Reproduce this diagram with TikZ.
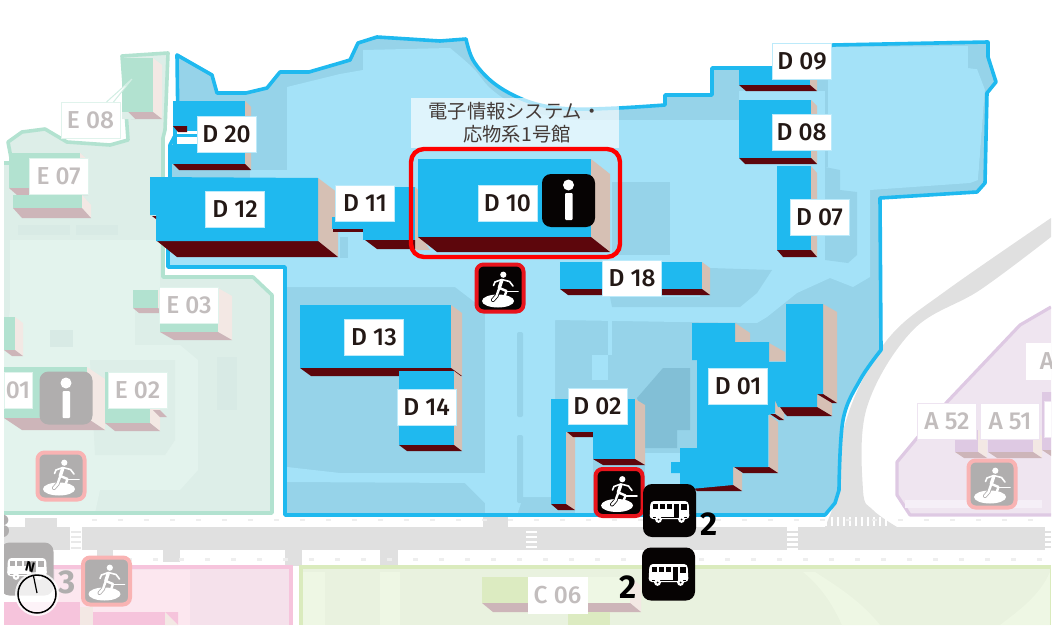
\documentclass[tikz,border=0pt]{standalone}
\usepackage{fontspec}
\setmainfont{Fira Sans}
\newfontfamily\labfont{Fira Sans Medium}
\newfontfamily\cjk{Noto Sans CJK JP}
\definecolor{dblue}{HTML}{1FB9EF}
\definecolor{sitedark}{HTML}{96D3E9}
\definecolor{sitelight}{HTML}{A4E2F8}
\definecolor{sitedeep}{HTML}{82BFD6}
\definecolor{dbrown}{HTML}{D6C0B4}
\definecolor{dmaroon}{HTML}{5D060C}
\definecolor{mintb}{HTML}{B2E2D0}
\definecolor{mintf}{HTML}{DDEEE8}
\definecolor{mintl}{HTML}{E3F3ED}
\definecolor{mintp}{HTML}{D8EAE5}
\definecolor{eside}{HTML}{F3E8E4}
\definecolor{ebot}{HTML}{CDB5B9}
\definecolor{roadg}{HTML}{E0E0E0}
\definecolor{dotg}{HTML}{EEEEEE}
\definecolor{pinkb}{HTML}{F6C4DC}
\definecolor{pinkf}{HTML}{F5E1EB}
\definecolor{pinkl}{HTML}{FCE7EF}
\definecolor{greenb}{HTML}{DAEBBD}
\definecolor{greenf}{HTML}{E9F2DF}
\definecolor{greenl}{HTML}{EEF7E4}
\definecolor{greenbld}{HTML}{DCEBC1}
\definecolor{purpf}{HTML}{EFE5F0}
\definecolor{purpb}{HTML}{DEC9E3}
\definecolor{iconk}{HTML}{060303}
\definecolor{icong}{HTML}{B0AEAE}
\definecolor{redb}{HTML}{E8141C}
\definecolor{pinkred}{HTML}{F9B3B3}
\definecolor{labk}{HTML}{231815}
\definecolor{labg}{HTML}{C2BDBD}
\tikzset{
 dtop/.style={fill=dblue}, dside/.style={fill=dbrown}, dbot/.style={fill=dmaroon},
 etop/.style={fill=mintb}, eside/.style={fill=eside}, ebot/.style={fill=ebot},
 ptop/.style={fill=purpb}, pside/.style={fill=eside}, pbot/.style={fill=ebot},
 ctop/.style={fill=greenbld}, cside/.style={fill=eside}, cbot/.style={fill=ebot},
 blab/.style={rectangle,inner sep=0pt,minimum width=59pt,minimum height=36pt,line width=1pt,fill=white,font=\labfont\fontsize{24.5}{24.5}\selectfont},
 dlab/.style={blab,draw=#1,text=labk}, dlab/.default={dblue!30},
 glab/.style={blab,draw=#1,text=labg}, glab/.default={mintb!40},
 iconbox/.style={rectangle,rounded corners=7pt,inner sep=0pt,minimum width=47pt,minimum height=47pt,line width=4pt},
 infobox/.style={rectangle,rounded corners=9pt,inner sep=0pt,minimum width=53pt,minimum height=53pt},
 busbox/.style={rectangle,rounded corners=9pt,inner sep=0pt,minimum width=53pt,minimum height=53pt,fill=iconk},
 numlab/.style={font=\fontsize{33}{33}\selectfont\bfseries,inner sep=0pt},
}
\newcommand\bld[7]{% theme x1 y1 x2 y2 dx dy
 \fill[#1side] (#4,#3) -- ({#4+#6},{#3+#7}) -- ({#4+#6},{#5+#7}) -- (#4,#5) -- cycle;
 \fill[#1bot] (#2,#5) -- (#4,#5) -- ({#4+#6},{#5+#7}) -- ({#2+#6},{#5+#7}) -- cycle;
 \fill[#1top] (#2,#3) rectangle (#4,#5);}
\newcommand\runner[5]{% name x y border fill
 \node[iconbox,draw=#4,fill=#5] (#1) at (#2,#3) {};
 \begin{scope}[shift={(#2,#3)}]
  \fill[white] (-2,13) ellipse (16 and 6.5);
  \fill[white] (3.3,-13.3) circle (3.1);
  \draw[#5,line width=4pt,line cap=round] (-0.7,0) -- (-3.5,8) -- (-7,12);
  \draw[white,line width=2.4pt,line join=round,line cap=round] (-0.7,0) -- (-3.5,8) -- (-7,12);
  \draw[white,line width=3.4pt,line cap=round] (1.7,-7.5) -- (-0.7,0);
  \draw[white,line width=1.6pt,line join=round,line cap=round] (1.7,-8.5) -- (9.5,-6.5) -- (13,-2);
  \draw[white,line width=1.6pt,line join=round,line cap=round] (1.7,-8.5) -- (-5,-6) -- (-6.5,-2.5);
  \draw[white,line width=2.4pt,line join=round] (-0.7,0) -- (6.5,3) -- (4.5,8.5);
  \draw[white,line width=1.6pt,line cap=round] (6.5,3.5) -- (18,3.5);
 \end{scope}}
\newcommand\busshape[3]{% x y bg (centre)
 \begin{scope}[shift={(#1,#2)}]
  \fill[white,rounded corners=3.5pt] (-19,-10) -- (19,-10) -- (20,8) -- (-20,8) -- cycle;
  \fill[#3] (-17,-7) rectangle (-12,-2);
  \fill[#3] (-10,-7) rectangle (-5,-2);
  \fill[#3] (-3,-7) rectangle (2,-2);
  \fill[#3] (4,-7) rectangle (9,7);
  \fill[#3] (11,-7) rectangle (17,-1);
  \fill[#3] (-17,5.5) rectangle (17,6.5);
  \fill[white] (-11,8.5) circle (3.4);
  \fill[white] (12,8.5) circle (3.4);
  \fill[#3] (-11,8.5) circle (1);
  \fill[#3] (12,8.5) circle (1);
 \end{scope}}
\newcommand\infoshape[2]{% x y
 \fill[white] (#1+1.5,#2-15) circle (5.5);
 \fill[white,rounded corners=1pt] (#1-2,#2-7) rectangle (#1+5.5,#2+20);}
\def\sitepath{(177,55) -- (212,75) -- (217,93) -- (246,93) -- (267,88) -- (280,72) -- (309,72) -- (340,63) -- (350,60) -- (358,43) -- (377,37) -- (440,41) -- (466,39)
 -- plot[smooth,tension=0.6] coordinates {(466,39) (473,60) (490,80) (513,95) (540,105) (573,109) (618,108) (665,105)}
 -- (665,95) -- (712,95) -- (712,68) -- (772,68) -- (833,45) -- (988,42) -- (988,57) -- (996,82) -- (987,93) -- (985,183) -- (977,192) -- (880,198) -- (881,350)
 -- plot[smooth,tension=0.6] coordinates {(881,350) (860,380) (843,420) (839,490)}
 -- (835,503) -- (825,515) -- (285,515) -- (285,267) -- (168,267) -- (168,240) -- (170,176) -- (170,145) -- (178,130) -- cycle}
\begin{document}
\begin{tikzpicture}[x=1pt,y=-1pt]
\useasboundingbox (0,0) rectangle (1055,629);
\begin{scope}
\clip (4,0) rectangle (1051,625);
% ---- green east-side block
\fill[mintf] (122,56) -- (168,53) -- (165,130) -- (163,138) -- (163,277) -- (253,277) -- (272,295) -- (272,513) -- (4,513) -- (4,163) -- (12,163) -- (8,142) -- (22,132) -- (45,129) -- (67,142) -- (110,145) -- (128,140) -- cycle;
\fill[mintl] (10,240) -- (160,240) -- (160,310) -- (135,300) -- (135,345) -- (180,345) -- (198,360) -- (198,470) -- (180,490) -- (100,490) -- (95,513) -- (4,513) -- (4,350) -- (10,310) -- cycle;
\fill[mintf] (90,360) -- (175,360) -- (175,440) -- (165,455) -- (95,455) -- cycle;
\fill[mintp] (18,225) rectangle (70,235);
\fill[mintp] (76,225) rectangle (118,235);
\fill[mintp] (217,357) rectangle (237,410);
\fill[mintp] (50,330) rectangle (73,347);
\draw[mintb,line width=3.6pt,line join=round] (4,163) -- (12,163) -- (8,142) -- (22,132) -- (45,129) -- (67,142) -- (110,145) -- (128,140) -- (122,56) -- (168,53) -- (165,130) -- (163,138) -- (163,277) -- (253,277) -- (272,295) -- (272,513) -- (4,513);
% green buildings
\bld{e}{122}{58}{153}{112}{9}{7}
\fill[mintf] (122,112) -- (128,112) -- (135,119) -- (122,119) -- cycle;
\bld{e}{9}{153}{80}{188}{8}{7}
\bld{e}{13}{195}{82}{208}{9}{10}
\bld{e}{133}{290}{158}{308}{6}{5}
\bld{e}{160}{288}{218}{332}{14}{8}
\bld{e}{4}{317}{15}{350}{8}{6}
\bld{e}{4}{367}{87}{418}{18}{12}
\bld{e}{105}{372}{150}{423}{10}{8}
\fill[ebot] (153,410) -- (160,410) -- (167,417) -- (160,417) -- cycle;
% ---- road network
\fill[roadg] (4,527) rectangle (1051,550);
\fill[white] (70,527) rectangle (82,550);
\foreach \yy in {531,536,541,547} \fill[roadg!70] (71,\yy) rectangle (81,{\yy+1.5});
\fill[white] (787,527) rectangle (798,550);
\foreach \yy in {531,536,541,546} \fill[roadg] (787,\yy) rectangle (798,{\yy+1.5});
\fill[white] (1045,527) rectangle (1051,550);
\foreach \yy in {531,536,541,546} \fill[roadg] (1045,\yy) rectangle (1051,{\yy+1.5});
\foreach \yy in {531,536,541,546} \fill[white] (526,\yy) rectangle (537,{\yy+1.8});
\fill[roadg] (25,518) rectangle (57,527);
\fill[roadg] (97,550) rectangle (113,566);
\fill[roadg] (163,550) rectangle (180,562);
\fill[roadg] (285,550) rectangle (302,566);
\fill[roadg] (483,516) rectangle (508,527);
\fill[roadg] (380,550) rectangle (398,566);
\fill[roadg] plot[smooth,tension=0.6] coordinates {(1051,218) (947,290) (893,333) (860,385) (841,440) (838,490) (825,527)} -- (897,527)
 -- plot[smooth,tension=0.6] coordinates {(897,527) (873,510) (863,490) (867,407) (913,330) (980,290) (1051,237)} -- cycle;
\foreach \xx in {813,819,...,885} \fill[white] (\xx,517) rectangle ({\xx+2.2},526);
% pavement dots
\foreach \xx in {92,118,...,1040} \fill[dotg] (\xx,518.5) rectangle ({\xx+5},521);
\foreach \xx in {127,153,...,1040} \fill[dotg] (\xx,558) rectangle ({\xx+5},560.5);
% ---- pink block
\fill[pinkf] (53,566) rectangle (292,625);
\fill[pinkl] (55,570) -- (190,570) -- (190,625) -- (55,625) -- cycle;
\draw[pinkb,line width=3.6pt] (53,567) -- (291,567) -- (291,625);
\fill[pinkb] (4,602) rectangle (80,625);
\fill[eside] (80,607) rectangle (93,625);
\fill[pinkb] (93,612) rectangle (165,625);
\fill[pinkb] (165,612) -- (178,612) -- (178,625) -- cycle;
\fill[eside] (165,612) -- (178,625) -- (165,625) -- cycle;
% ---- south green block
\fill[greenf] (299,565) rectangle (1051,625);
\fill[greenl] (299,572) rectangle (325,625);
\fill[greenl] (380,572) rectangle (400,625);
\fill[greenl] (803,572) .. controls (825,590) and (835,610) .. (842,625) -- (1000,625) .. controls (1020,610) and (1040,595) .. (1050,572) -- (1050,590) -- (1050,625) -- (880,625) .. controls (860,600) and (835,585) .. (815,572) -- cycle;
\fill[greenb] (299,565) rectangle (1051,569);
\fill[greenb] (299,565) rectangle (303,625);
\fill[greenb] (1049.5,569) rectangle (1051,625);
\bld{c}{482}{577}{630}{603}{11}{9}
\fill[greenl] (587,577) rectangle (630,603);
\fill[greenbld] (568,612) rectangle (610,625);
% ---- purple block
\fill[purpf] (1051,307) -- (1020,325) -- (947,402) -- (897,462) -- (897,495) -- (910,515) -- (1051,515) -- cycle;
\draw[purpb,line width=3.2pt,line join=round] (1051,307) -- (1020,325) -- (947,402) -- (897,462) -- (897,495) -- (910,515) -- (1051,515);
\fill[purpb!30] (905,500) rectangle (1042,508);
\bld{p}{955}{430}{978}{452}{9}{6}
\bld{p}{988}{430}{1033}{452}{9}{6}
\bld{p}{1042}{392}{1060}{450}{9}{6}
\node[glab=purpb!50] (a52) at (947,421.5) {A 52};
\node[glab=purpb!50] (a51) at (1010,421.5) {A 51};
\node[glab=purpb!50] (a5x) at (1074,419) {};
\node[glab=white] (ax) at (1056,361.5) {A\hspace*{18pt}};
% ---- D site ground
\fill[sitedark] \sitepath;
\begin{scope}
\clip \sitepath;
\fill[sitelight] (287,87) -- (340,74) -- (363,70) -- (363,50) -- (450,48)
 -- plot[smooth,tension=0.6] coordinates {(450,48) (473,68) (490,88) (513,104) (540,114) (575,120)}
 -- (739,120) -- (739,91) -- (828,91) -- (828,47) -- (968,46) -- (968,68) -- (977,69) -- (985,90) -- (978,180) -- (970,183) -- (870,190) -- (870,277)
 -- (853,287) -- (830,278) -- (797,293) -- (767,317) -- (757,323) -- (680,322) -- (555,320) -- (555,497) -- (523,497) -- (517,515)
 -- (485,515) -- (485,503) -- (465,483) -- (287,482) -- (287,467) -- (340,473) -- (485,473) -- (485,310) -- (455,287) -- (287,287) -- (287,267) -- (165,267) -- (165,250) -- (287,250) -- (287,178) -- (250,178) -- (250,170) -- (287,170) -- cycle;
\fill[sitedark] (612,182) rectangle (670,255);
\fill[sitedark] (340,237) rectangle (348,258);
\fill[sitedark] (710,268) -- (772,270) -- (757,293) -- (740,307) -- (612,307) -- (610,297) -- (700,297) -- cycle;
\fill[sitedark] (825,167) -- (840,170) -- (840,190) -- (857,192) -- (857,255) -- (848,263) -- (825,260) -- cycle;
\fill[sitedark] (825,80) rectangle (828,167);
\fill[sitedark] (968,46) -- (988,46) -- (988,57) -- (978,69) -- (968,68) -- cycle;
\fill[sitedark] (985,90) -- (990,90) -- (990,182) -- (978,182) -- cycle;
\fill[sitedark,rounded corners=2pt] (517,332) rectangle (523,417);
\fill[sitedark,rounded corners=2pt] (517,435) rectangle (523,503);
\fill[sitelight] (608,320) rectangle (612,355);
\fill[sitelight] (592,355) rectangle (608,380);
\fill[sitelight] (645,453) rectangle (682,510);
\fill[sitelight] (575,437) rectangle (593,515);
\fill[sitedeep] (637,398) -- (663,368) -- (690,368) -- (690,430) -- (677,430) -- (677,448) -- (645,448) -- (645,420) -- cycle;
\end{scope}
\draw[dblue,line width=3.6pt,line join=round] \sitepath;
% ---- D buildings
\fill[white] (178,125) rectangle (197,144);
\bld{d}{173}{101}{245}{164}{6}{6}
\fill[white] (177,131) rectangle (197,144);
\fill[dmaroon] (173,126) -- (187,126) -- (187,132) -- (178,132) -- cycle;
\fill[dblue] (177,134) rectangle (197,136.5);
\fill[dblue] (170,145) rectangle (197,164);
% D12
\fill[dside] (318,178) -- (338,193) -- (338,257) -- (318,241) -- cycle;
\fill[dbot] (157,241) -- (318,241) -- (338,257) -- (177,257) -- cycle;
\fill[dblue] (150,177) -- (318,178) -- (318,241) -- (156,241) -- (156,215) -- (150,215) -- cycle;
\fill[dbot] (152,216) -- (156,216) -- (156,219) -- cycle;
% D11
\fill[dblue] (332,217) rectangle (365,229);
\fill[dmaroon] (333,229) rectangle (363,232);
\fill[dbrown] (415,187) -- (418,190) -- (418,250) -- (415,249) -- cycle;
\fill[dmaroon] (365,240) -- (415,240) -- (415,249) -- (377,249) -- cycle;
\fill[dblue] (395,187) rectangle (415,240);
\fill[dblue] (363,222) rectangle (415,240);
% D10
\fill[dbrown] (418,232) -- (430,250) -- (418,250) -- cycle;
\bld{d}{418}{159}{591}{237}{19}{15}
% D18
\bld{d}{560}{262}{702}{289}{8}{6}
% D13, D14
\bld{d}{300}{305}{451}{368}{11}{8}
\bld{d}{399}{371}{454}{445}{8}{6}
% D02
\fill[dbrown] (566,432) -- (575,437) -- (575,510) -- (566,504) -- cycle;
\fill[dmaroon] (551,504) -- (566,504) -- (575,510) -- (558,510) -- cycle;
\fill[dmaroon] (567,432) -- (593,432) -- (593,437) -- (573,437) -- cycle;
\bld{d}{593}{399}{635}{459}{10}{6}
\fill[dblue] (551,399) rectangle (566,504);
\fill[dblue] (551,399) rectangle (635,432);
% D01
\fill[dbrown] (735,323) -- (750,333) -- (750,342) -- (735,342) -- cycle;
\fill[dbrown] (769,343) -- (785,352) -- (785,361) -- (769,361) -- cycle;
\fill[dbrown] (823,304) -- (837,312) -- (837,403) -- (823,394) -- cycle;
\fill[dbrown] (817,394) -- (832,403) -- (832,416) -- (817,407) -- cycle;
\fill[dmaroon] (817,394) -- (823,394) -- (837,403) -- (832,403) -- cycle;
\fill[dmaroon] (778,407) -- (817,407) -- (832,416) -- (787,416) -- cycle;
\fill[dbrown] (775,400) -- (784,413) -- (784,420) -- (775,413) -- cycle;
\fill[dbrown] (769,415) -- (778,422) -- (778,473) -- (769,467) -- cycle;
\fill[dmaroon] (770,414) -- (775,414) -- (784,420) -- (779,420) -- cycle;
\fill[dmaroon] (734,467) -- (769,467) -- (778,473) -- (743,473) -- cycle;
\fill[dbrown] (733,467) -- (742,473) -- (742,491) -- (733,485) -- cycle;
\fill[dmaroon] (690,485) -- (733,485) -- (742,491) -- (697,491) -- cycle;
\fill[dblue] (692,323) -- (735,323) -- (735,342) -- (769,342) -- (769,362) -- (786,362) -- (786,304) -- (823,304) -- (823,394) -- (817,394) -- (817,407) -- (778,407) -- (775,400) -- (775,413) -- (768,415) -- (768,467) -- (733,467) -- (733,485) -- (680,490) -- (680,473) -- (671,473) -- (671,462) -- (680,462) -- (680,448) -- (697,448) -- (697,360) -- (692,360) -- cycle;
% D09, D08, D07
\bld{d}{739}{68}{810}{85}{7}{6}
\bld{d}{739}{100}{811}{158}{6}{6}
\bld{d}{777}{166}{811}{250}{6}{7}
% ---- title band + highlight
\node[rectangle,fill=white,fill opacity=0.65,text opacity=1,minimum width=208pt,minimum height=50pt,inner sep=0pt,text=labk!85,align=center,font=\fontsize{19.3}{24}\cjk] (title) at (515,123) {電子情報システム・\\[-1pt]\hspace*{4pt}応物系1号館};
\node[rectangle,draw=red,line width=4.4pt,rounded corners=13pt,minimum width=209pt,minimum height=108pt,inner sep=0pt] (hilite) at (515.5,203) {};
% ---- labels
\node[dlab] (d20) at (226.5,134.5) {D 20};
\node[dlab] (d12) at (235,209) {D 12};
\node[dlab] (d11) at (365,203.5) {D 11};
\node[dlab] (d10) at (507.5,203) {D 10};
\node[dlab] (d18) at (632,278) {D 18};
\node[dlab] (d13) at (374,337) {D 13};
\node[dlab] (d14) at (426.5,407.5) {D 14};
\node[dlab] (d02) at (597.5,406.5) {D 02};
\node[dlab] (d01) at (738,386) {D 01};
\node[dlab] (d09) at (802,61) {D 09};
\node[dlab] (d08) at (801.5,132) {D 08};
\node[dlab] (d07) at (819.5,217.5) {D 07};
\coordinate (e08tip) at (132,79);
\node[glab] (e08) at (90.5,120.5) {E 08};
\filldraw[fill=white,draw=mintb!60,line width=1pt] ([xshift=16pt]e08.north) -- (e08tip) -- ([xshift=23pt]e08.north);
\node[glab] (e07) at (58.5,176.5) {E 07};
\node[glab] (e03) at (189,305.5) {E 03};
\node[glab] (e02) at (137.5,390) {E 02};
\node[glab,minimum width=28pt] (e01) at (18,390.5) {01};
\node[glab=white] (c06) at (557.5,595.5) {C 06};
% ---- info signs
\node[infobox,fill=iconk] (info1) at (568.5,200.5) {};
\infoshape{567}{200}
\node[infobox,fill=icong] (info2) at (66,398) {};
\infoshape{64.5}{398}
% ---- runner signs
\runner{run1}{500}{288}{redb}{iconk}
\runner{run2}{619}{492.5}{redb}{iconk}
\runner{run3}{61}{476}{pinkred}{icong}
\runner{run4}{106.5}{581}{pinkred}{icong}
\runner{run5}{992}{484}{pinkred}{icong}
% ---- bus signs
\node[busbox] (bus1) at (669.5,510.5) {};
\busshape{669.5}{511}{iconk}
\node[numlab] (two1) at (709.5,524) {2};
\node[busbox] (bus2) at (668.5,574) {};
\busshape{668.5}{574}{iconk}
\node[numlab] (two2) at (628,587) {2};
\node[busbox,fill=icong] (bus3) at (27,569) {};
\busshape{27}{568}{icong}
\node[numlab,text=icong] (three1) at (67,582) {3};
\node[numlab,text=icong] (three2) at (2,526) {3};
% ---- compass
\node[circle,fill=white,minimum size=44pt,inner sep=0pt,opacity=0.8] (cmpw) at (37,594) {};
\draw[black,line width=1.5pt] (37,594) circle (19);
\draw[black,line width=1.2pt] (37,593) -- (33.5,576);
\node[font=\fontsize{14}{14}\selectfont\bfseries,rotate=-15,inner sep=0pt] (north) at (30,567.5) {N};
\end{scope}
\end{tikzpicture}
\end{document}
